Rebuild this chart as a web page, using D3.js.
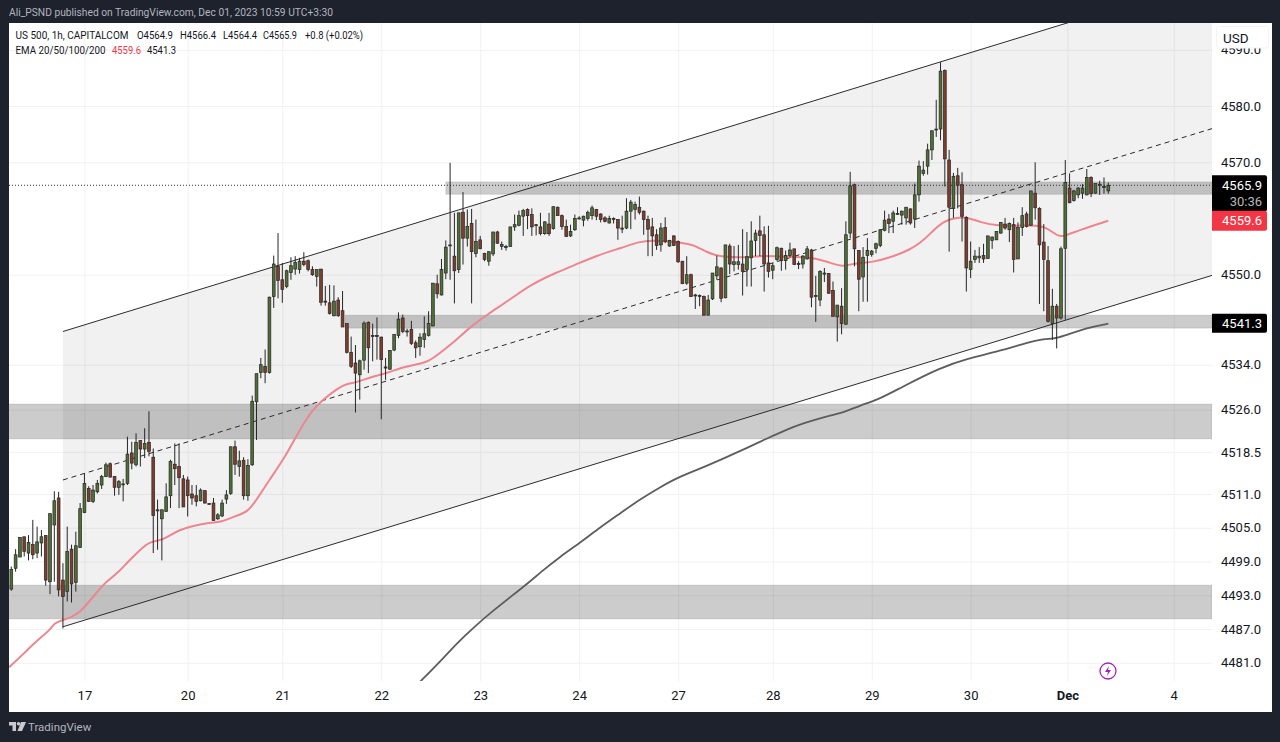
<!DOCTYPE html>
<html>
<head>
<meta charset="utf-8">
<title>US 500, 1h</title>
<script src="https://cdn.jsdelivr.net/npm/d3@7"></script>
<style>
	html, body { margin: 0; padding: 0; background: #1e222d; }
	svg { display: block; }
	text { font-family: Roboto, "Liberation Sans", sans-serif; }
</style>
</head>
<body>
<svg id="chart" width="1280" height="742"></svg>
<script>
	// hourly candles, one row per ten bars, same layout in all four arrays
	var opens = [
		4494.1,4497.8,4499.8,4503.4,4500.5,4502.0,4500.5,4502.3,4503.6,4495.4,
		4505.5,4510.3,4495.7,4493.65,4501.2,4495.3,4501.5,4507.7,4512,4509.7,
		4511.4,4512.6,4514.1,4516.4,4514.1,4512.2,4512.8,4512.9,4518.3,4516.2,
		4520.5,4519,4520.2,4517.55,4508,4506.6,4507.9,4510.7,4516.3,4515.9,
		4513.7,4513.5,4511,4510.7,4509.8,4511.6,4509.3,4509.4,4506.6,4507.1,
		4510.1,4511.1,4519.4,4515.9,4517,4510.7,4516.2,4527.4,4532.6,4533.7,
		4532.6,4546.1,4551.5,4549.1,4547.9,4550.4,4551,4550.9,4552.4,4552.5,
		4550.9,4549.7,4551,4545.3,4545,4542.7,4545.5,4543.6,4541.3,4536.2,
		4534.3,4532.2,4534.8,4541.5,4539,4539.2,4538.9,4533.6,4533.2,4536.6,
		4539.2,4542.3,4540,4540.3,4537.9,4537.2,4538.5,4539.2,4540.9,4548.4,
		4546.4,4550.3,4555.3,4553.3,4550.9,4561.1,4556.5,4559.1,4553.8,4556.2,
		4553.8,4552.4,4553.7,4557.6,4555,4554.9,4555,4558.5,4558.8,4560.4,
		4561.6,4560.7,4558.9,4558.5,4557.3,4559,4558.2,4562,4560.5,4558.6,
		4556.9,4558,4560,4559.7,4560,4560.5,4561.6,4560.8,4560.1,4559.2,
		4560,4559.8,4558.3,4558.3,4561.3,4561.6,4562,4561.3,4559.8,4558.5,
		4557.1,4555.3,4558.4,4555.1,4556.9,4555.9,4552.4,4548.5,4550,4546.4,
		4546.3,4546.1,4542.8,4545.7,4549.8,4551.2,4545.9,4555.1,4551.8,4551.8,
		4551.9,4550.9,4553,4556.1,4557.8,4557.1,4552.1,4550.8,4552.7,4554.7,
		4552.5,4553.4,4554.6,4552,4551.9,4552.8,4554.4,4546.1,4545.5,4550.1,
		4550.2,4547.2,4542.5,4544.4,4541.2,4557.4,4566,4554.3,4549.6,4553.4,
		4553.6,4554.7,4555.2,4557.9,4559.9,4559.5,4560.9,4560.6,4560.1,4561.7,
		4559.9,4564.2,4568,4569.3,4572.2,4575.9,4575.9,4586.3,4570.4,4561.8,
		4567.6,4566,4560.2,4550.9,4552.7,4553,4553.4,4552.9,4556.1,4556.2,
		4557.4,4559,4558,4558.9,4552.8,4558.4,4560.8,4558.8,4564.5,4561.8,
		4555.8,4552.5,4541.3,4544.4,4542.3,4554.7,4565.4,4563.2,4564.2,4564.5,
		4564.2,4567.3,4564.5,4566,4565.7,4564.9
	];
	var highs = [
		4498.1,4501.2,4503.3,4503.4,4503.7,4506.4,4505.2,4504.6,4503.7,4507.6,
		4511.5,4511.4,4498.7,4505.2,4502,4504.3,4509.4,4514.7,4512.4,4512.6,
		4513.5,4514.4,4516.6,4516.6,4514.2,4513.5,4513.7,4521.2,4520.3,4521.8,
		4520.5,4522.7,4525.7,4519.1,4510,4508.2,4512.9,4517.1,4520,4520,
		4514.4,4514.1,4512.6,4512.6,4512,4511.7,4509.4,4510.3,4507.6,4510,
		4511.7,4519.4,4520.5,4518.7,4517.55,4517.2,4528.5,4532.4,4535.2,4536.7,
		4546.1,4553.4,4557.4,4552.1,4550.9,4553.1,4553.3,4553,4554,4552.7,
		4551.5,4550.9,4551,4548,4548.2,4548.1,4546,4547.1,4541.3,4539,
		4537.5,4534.9,4541.7,4541.7,4541.3,4542.4,4539,4535.2,4536.6,4539.4,
		4543.3,4542.9,4540.4,4541.8,4538.3,4539.6,4542.6,4543.5,4548.5,4550,
		4552.8,4556.1,4569.9,4561,4561,4564.7,4561.6,4561.7,4559.8,4556.9,
		4553.9,4554.1,4557.6,4557.8,4555.9,4555.3,4558.5,4560.7,4561.4,4561.7,
		4561.8,4561.8,4559,4561,4559.5,4561,4562.1,4562.1,4560.7,4559.8,
		4558.9,4560.7,4560.4,4560.5,4561.4,4562.3,4561.7,4560.9,4560.4,4560.5,
		4560.2,4559.9,4560.5,4563.6,4563.3,4563,4563.9,4561.4,4560.5,4560.1,
		4558.1,4559.2,4560.2,4556.2,4557,4556.1,4552.4,4553.3,4550.2,4546.6,
		4546.5,4546.3,4546.4,4550.3,4553.4,4551.3,4555.3,4555.5,4555.1,4555.3,
		4558.1,4557.6,4559.5,4558,4560.5,4558.6,4558.7,4552.1,4555,4554.8,
		4554.3,4555.7,4554.6,4552.4,4553.5,4555.1,4554.6,4549.8,4550.8,4551.2,
		4550.3,4548.8,4544.6,4547.6,4559.5,4568.3,4566.2,4554.3,4554.9,4556.5,
		4554.4,4555.7,4558.1,4561.4,4560.8,4561.4,4562,4561.4,4562,4561.8,
		4566.2,4570.3,4570.2,4573.3,4575.6,4581.1,4587.8,4586.5,4572.2,4568.1,
		4569,4568.2,4560.4,4555.9,4554.4,4554.9,4555.5,4556.9,4556.8,4557.7,
		4559.3,4560.1,4559.3,4560.1,4559.3,4562,4561.2,4564.9,4570,4562,
		4559,4555.1,4547.5,4544.8,4555,4570.4,4568,4565.1,4565.6,4566.1,
		4568.8,4567.5,4566.2,4566.7,4567.3,4566.4
	];
	var lows = [
		4493.8,4497.2,4499.8,4499.9,4499.2,4499.4,4499.6,4499.9,4494.7,4493.2,
		4495.4,4492.8,4487.1,4491.9,4491.7,4493.65,4501.4,4507.6,4509.6,4509.4,
		4511.1,4511.9,4514,4514,4510.7,4510.85,4509.7,4512.6,4515.4,4515.9,
		4515.9,4517.4,4517.7,4500.5,4501.1,4499.2,4507.8,4508.5,4512.6,4508.5,
		4508.7,4507,4509.1,4508.8,4509.7,4509.3,4509.2,4506.3,4506.4,4506.9,
		4509.25,4510.85,4514.4,4514.1,4510,4509.8,4516,4520.6,4531.6,4530.7,
		4532.4,4544.1,4545.8,4545,4547.6,4549.1,4550,4550.2,4551.5,4550.6,
		4549.8,4547.9,4544.5,4544.5,4542.9,4542.6,4542.5,4540.7,4536,4533.4,
		4525.5,4527.8,4533.1,4532.5,4534.6,4534.9,4524.3,4531.3,4533.1,4536.4,
		4538.7,4539.6,4539,4537.5,4535.2,4535.6,4537,4539,4540.8,4545.8,
		4546.3,4549.2,4549.1,4544.9,4550.3,4551.8,4555,4544.9,4553.1,4554.6,
		4552.4,4551.6,4553.3,4555.5,4554.4,4554.3,4555,4557.8,4558.6,4556.9,
		4558.1,4556.9,4557,4557,4557.1,4556.9,4558,4560.5,4558,4556.7,
		4556.7,4557.8,4559.8,4558.6,4559.6,4559.8,4559.7,4559.3,4559.3,4559.1,
		4559.1,4556.2,4557.4,4558.1,4558.1,4559.8,4560.7,4557.1,4553.3,4553.3,
		4554.4,4554.1,4555.6,4555,4555.1,4552.1,4548.4,4548.2,4546.1,4543.9,
		4544.4,4542.8,4542.8,4545.5,4549.1,4545.1,4545.8,4550.1,4550.6,4550.9,
		4546.3,4547.9,4547.9,4553.3,4553.3,4547,4549.5,4549.2,4552.4,4550.7,
		4550.9,4553.1,4551.7,4551,4551.1,4552.7,4544.2,4541.6,4544.4,4548.7,
		4546.7,4542.6,4538.1,4539.4,4541.1,4556.5,4551.5,4543.5,4545.2,4545.2,
		4553.2,4553.8,4554.9,4557.7,4557.4,4557.4,4560.7,4558.9,4558.9,4558.9,
		4558.3,4563,4567.6,4567.8,4570.4,4574.5,4573.9,4565.7,4554.1,4560.1,
		4561.8,4555.9,4547,4549.4,4552.1,4552.1,4552.1,4552.8,4554.6,4556.2,
		4557.3,4558,4555.8,4550.4,4552.8,4556.9,4558.4,4558.7,4559.8,4544.8,
		4543.5,4541.5,4538.4,4536.9,4542,4542,4562.7,4563,4563.6,4563.5,
		4564.1,4563.8,4564.4,4564.2,4564.4,4564.4
	];
	var closes = [
		4497.6,4500.2,4503.3,4500.8,4502.4,4500.2,4502.5,4503.4,4495.7,4507.5,
		4509.8,4493.95,4492.8,4500.8,4495,4501.8,4508.4,4512.9,4509.7,4511.7,
		4512.9,4514.1,4516.2,4514,4512.2,4513.2,4512.8,4518.1,4516.5,4520.2,
		4519,4520,4518.6,4507.2,4508.2,4508.2,4510.5,4516.8,4515.5,4513.9,
		4508.7,4510.7,4510.3,4509.7,4511.7,4509.4,4509.2,4506.3,4507.3,4509.4,
		4510.85,4519.4,4516.3,4516.9,4510.7,4516.1,4527.5,4532.4,4534,4532.6,
		4546,4551.9,4549,4547.4,4550.7,4551.6,4552.2,4552.4,4551.8,4550.9,
		4550,4550.9,4545.1,4545.2,4543.1,4545.3,4542.7,4540.7,4536.2,4533.7,
		4532.5,4534.7,4541.4,4537,4539.2,4539,4534.9,4533.4,4536.5,4539.4,
		4542.1,4539.9,4539.9,4537.8,4537,4538.9,4539.5,4541.3,4548.5,4546.6,
		4550.9,4554.9,4555.3,4550.7,4561,4556.5,4558.6,4554.1,4555.9,4554.6,
		4552.7,4554.1,4557.6,4555.6,4555.4,4555,4558.5,4558.9,4560.5,4561.4,
		4560.5,4558.5,4558.9,4557.3,4559.4,4557.3,4562.1,4560.5,4558.6,4556.8,
		4557.7,4560,4560.1,4560.4,4561.1,4561.9,4560.4,4559.8,4559.5,4560,
		4559.8,4558.3,4558.1,4561.3,4562.9,4562.5,4561.1,4559.8,4558.1,4556.9,
		4555.2,4558.3,4555.9,4556.1,4555.2,4552.3,4548.4,4550,4546.1,4546.3,
		4546.3,4542.8,4545.5,4550.3,4551.4,4545.8,4555.3,4551.9,4552.3,4552.3,
		4550.6,4553.2,4556,4557.4,4557,4551.9,4550.6,4551.6,4554.8,4552.5,
		4553.4,4554.4,4551.8,4551.8,4553.3,4554.6,4546,4546.3,4550.6,4550.3,
		4546.7,4542.6,4544.6,4541.3,4557.1,4565.8,4554.6,4549.2,4553.1,4554.3,
		4554.2,4555.5,4558,4559.7,4559.1,4561,4560.9,4561.3,4562,4559.2,
		4564.2,4569.3,4568.6,4572.2,4575.6,4575.9,4586.2,4570.6,4562,4567.5,
		4565.9,4560.4,4551.2,4552.4,4553.3,4553.3,4552.8,4556.9,4556.7,4557.7,
		4559.3,4558.3,4559.1,4552.7,4558.4,4560.5,4558.6,4564.9,4561.9,4555.3,
		4552.7,4541.7,4544.4,4542.3,4554.6,4566.4,4562.8,4564.9,4565.4,4565.4,
		4567.3,4564.4,4566.2,4566.1,4565.5,4565.9
	];

	var ema50_bars = [-0.5,3,6,9,10,12,14,16,18,20,22,25,27,30,32,35,37,39,42,45.5,49,52,55,57,60,64,67,70,72.5,76,78,80,84,87,91,94,97,100,103,107,110.6,116,120.6,127,130.6,136,142,146,149,153,155.5,158.5,161.8,164.8,170,174,178.7,182.7,186.4,189.7,193.4,195.7,199.7,205,209,211.3,213,216.5,220,222.3,225.3,229.2,234.6,240,243.2,244.6,248.5,255];
	var ema50_values = [4480.2,4482.7,4485,4486.8,4488.1,4488.6,4489.1,4490,4491.8,4493.6,4495.4,4497.1,4498.9,4501.1,4502.5,4502.8,4503.7,4504.6,4505.3,4505.9,4506,4507.1,4507.8,4510,4513.5,4518,4522.4,4526,4527.8,4529.9,4530.6,4530.8,4531.9,4532.4,4533.6,4534,4534.5,4536.3,4538.1,4540.9,4542.9,4545.6,4548.2,4550.5,4551.6,4553.4,4554.8,4555.9,4556.1,4555.9,4555.7,4555.4,4553.9,4553.2,4553,4553.4,4553.2,4553.2,4553,4552.3,4551.3,4552.1,4552.1,4553.2,4554.5,4555.7,4556.8,4559.6,4560.2,4560.2,4559.3,4558.7,4558.7,4558.9,4556.8,4556.8,4558,4559.6];
	var ema200_bars = [95,99.7,103.6,107.8,111.7,119.9,122.9,127.6,132.2,136.9,141.6,146.2,150.8,154.7,161.7,166.4,171,175.7,180.3,184.2,188.8,193.5,197.4,201.3,206.7,216,222.3,229.2,236.9,240,242.3,244.3,250.2,255];
	var ema200_values = [4477.6,4481.2,4484.5,4487.5,4490.1,4495,4497,4499.9,4502.3,4505.1,4507.6,4510.1,4512.2,4513.9,4516,4517.6,4519.2,4520.9,4522.5,4523.6,4524.7,4525.5,4526.8,4527.7,4529.9,4533.5,4535.1,4536.3,4538.1,4538.6,4538.6,4539,4540.6,4541.3];

	// regression channel, ends at the low of bar 12 and at the right edge of the pane
	var channel_bars = [12, 279.2];
	var channel_upper = [4539.9, 4602.7];
	var channel_median = [4513.5, 4576];
	var channel_lower = [4487.4, 4549.9];

	// supply / demand boxes: first bar, top price, bottom price
	var zone_starts = [101, 77.6, -1, -1];
	var zone_tops = [4566.5, 4542.8, 4527, 4494.8];
	var zone_bottoms = [4564.3, 4540.5, 4520.8, 4488.8];

	var price_ticks = [4481,4487,4493,4499,4505,4511,4518.5,4526,4534,4550,4570,4580,4590];
	var day_bars = [17,41,63,86,109,132,155,177,200,223,245.5,270.2];
	var day_labels = ["17","20","21","22","23","24","27","28","29","30","Dec","4"];

	var last_price = 4565.9, ema50_last = 4559.6, ema200_last = 4541.3;

	var svg = d3.select("#chart");

	var pane = { left: 9, right: 1212, top: 23, bottom: 681, frame_right: 1272, frame_bottom: 712 };

	var x = d3.scaleLinear().domain([0, 255]).range([11.3, 1108.3]);
	var y = d3.scaleLinear().domain([4487, 4580]).range([629, 106]);

	svg.append("rect").attr("width", 1280).attr("height", 742).attr("fill", "#1e222d");
	svg.append("rect")
		.attr("x", pane.left).attr("y", pane.top)
		.attr("width", pane.frame_right - pane.left)
		.attr("height", pane.frame_bottom - pane.top)
		.attr("fill", "#ffffff");

	svg.append("clipPath").attr("id", "pane_clip").append("rect")
		.attr("x", pane.left).attr("y", pane.top)
		.attr("width", pane.right - pane.left)
		.attr("height", pane.bottom - pane.top);

	var plot = svg.append("g").attr("clip-path", "url(#pane_clip)");

	// grid comes from the axes, labels are drawn again later on top of the boxes
	function grid_style(g){
		g.select(".domain").remove();
		g.selectAll("text").remove();
		g.selectAll("line").attr("stroke", "#f0f1f3").attr("stroke-width", 1);
	}
	plot.append("g")
		.attr("transform", "translate(" + pane.left + ",0)")
		.call(d3.axisRight(y).tickValues(price_ticks).tickSize(pane.right - pane.left))
		.call(grid_style);
	plot.append("g")
		.attr("transform", "translate(0," + pane.top + ")")
		.call(d3.axisBottom(x).tickValues(day_bars).tickSize(pane.bottom - pane.top))
		.call(grid_style);

	// channel fill and lines
	var channel_index = d3.range(channel_bars.length);
	plot.append("path")
		.datum(channel_index)
		.attr("fill", "#000000")
		.attr("fill-opacity", 0.055)
		.attr("d", d3.area()
			.x(function(i){ return x(channel_bars[i]); })
			.y0(function(i){ return y(channel_lower[i]); })
			.y1(function(i){ return y(channel_upper[i]); }));

	// zones
	plot.selectAll("rect.zone")
		.data(d3.range(zone_starts.length))
		.enter().append("rect")
		.attr("class", "zone")
		.attr("x", function(i){ return x(zone_starts[i]); })
		.attr("y", function(i){ return y(zone_tops[i]); })
		.attr("width", function(i){ return pane.right - x(zone_starts[i]); })
		.attr("height", function(i){ return y(zone_bottoms[i]) - y(zone_tops[i]); })
		.attr("fill", "#000000")
		.attr("fill-opacity", 0.2)
		.attr("stroke", "#000000")
		.attr("stroke-opacity", 0.1);

	function channel_line(values, dash){
		plot.append("path")
			.datum(channel_index)
			.attr("fill", "none")
			.attr("stroke", "#2b2b2b")
			.attr("stroke-width", 1)
			.attr("stroke-dasharray", dash)
			.attr("d", d3.line()
				.x(function(i){ return x(channel_bars[i]); })
				.y(function(i){ return y(values[i]); }));
	}
	channel_line(channel_upper, null);
	channel_line(channel_lower, null);
	channel_line(channel_median, "5,4");

	// last price dotted line
	plot.append("line")
		.attr("x1", pane.left).attr("x2", pane.right)
		.attr("y1", y(last_price)).attr("y2", y(last_price))
		.attr("stroke", "#333333")
		.attr("stroke-dasharray", "1,2");

	function ema_line(bars, values, color, width){
		plot.append("path")
			.datum(d3.range(bars.length))
			.attr("fill", "none")
			.attr("stroke", color)
			.attr("stroke-width", width)
			.attr("stroke-linejoin", "round")
			.attr("d", d3.line()
				.curve(d3.curveBasis)
				.x(function(i){ return x(bars[i]); })
				.y(function(i){ return y(values[i]); }));
	}
	ema_line(ema50_bars, ema50_values, "#ec868f", 2);
	ema_line(ema200_bars, ema200_values, "#5d5d5d", 1.8);

	// candles
	var candle = plot.selectAll("g.candle")
		.data(d3.range(opens.length))
		.enter().append("g")
		.attr("class", "candle");

	candle.append("line")
		.attr("x1", function(i){ return x(i); })
		.attr("x2", function(i){ return x(i); })
		.attr("y1", function(i){ return y(highs[i]); })
		.attr("y2", function(i){ return y(lows[i]); })
		.attr("stroke", "#262626")
		.attr("stroke-width", 1);

	candle.append("rect")
		.attr("x", function(i){ return x(i) - 1.4; })
		.attr("width", 2.8)
		.attr("y", function(i){ return y(Math.max(opens[i], closes[i])); })
		.attr("height", function(i){ return Math.max(1, Math.abs(y(opens[i]) - y(closes[i]))); })
		.attr("fill", function(i){ return closes[i] >= opens[i] ? "#4f6f34" : "#7f3d2b"; })
		.attr("stroke", "#262626")
		.attr("stroke-width", 0.7);

	// price axis labels
	var price_axis = svg.append("g")
		.attr("transform", "translate(" + pane.right + ",0)")
		.call(d3.axisRight(y).tickValues(price_ticks).tickSize(0).tickPadding(9).tickFormat(d3.format(".1f")));
	price_axis.select(".domain").remove();
	price_axis.selectAll("text")
		.attr("font-size", 13)
		.attr("font-family", "Roboto, sans-serif")
		.attr("fill", "#131722");

	// time axis labels
	var time_axis = svg.append("g")
		.attr("transform", "translate(0," + pane.bottom + ")")
		.call(d3.axisBottom(x).tickValues(day_bars).tickSize(0).tickPadding(10)
			.tickFormat(function(d, i){ return day_labels[i]; }));
	time_axis.select(".domain").remove();
	time_axis.selectAll("text")
		.attr("font-size", 13)
		.attr("font-family", "Roboto, sans-serif")
		.attr("font-weight", function(d, i){ return day_labels[i] === "Dec" ? "bold" : "normal"; })
		.attr("fill", "#131722");

	// USD button covers the top tick label
	svg.append("rect")
		.attr("x", 1212.5).attr("y", pane.top).attr("width", 59).attr("height", 25)
		.attr("fill", "#ffffff");
	svg.append("rect")
		.attr("x", 1216.5).attr("y", 26.5).attr("width", 52).attr("height", 21.5).attr("rx", 2)
		.attr("fill", "#ffffff").attr("stroke", "#f0f3fa");
	svg.append("text")
		.attr("x", 1223).attr("y", 43)
		.attr("font-size", 13.5).attr("fill", "#131722")
		.text("USD");

	// price tags on the axis
	function price_tag(top, height, fill){
		svg.append("path")
			.attr("fill", fill)
			.attr("d", "M" + pane.right + "," + top + "h53q2,0 2,2v" + (height - 4) + "q0,2 -2,2h-53z");
	}
	function tag_text(value, dy, color){
		svg.append("text")
			.attr("x", 1262).attr("y", y(value) + dy)
			.attr("text-anchor", "end")
			.attr("font-size", 13).attr("fill", color)
			.text(d3.format(".1f")(value));
	}
	price_tag(y(last_price) - 10, 36, "#000000");
	tag_text(last_price, 4.5, "#ffffff");
	svg.append("text")
		.attr("x", 1262).attr("y", y(last_price) + 21)
		.attr("text-anchor", "end")
		.attr("font-size", 13).attr("fill", "#b8b8b8")
		.text("30:36");
	price_tag(y(ema50_last) - 10, 20, "#f23645");
	tag_text(ema50_last, 4.5, "#ffffff");
	price_tag(y(ema200_last) - 10, 19, "#000000");
	tag_text(ema200_last, 4.5, "#ffffff");

	// header and legend, widths fitted to the narrow face of the original
	svg.append("text")
		.attr("x", 9).attr("y", 16)
		.attr("font-size", 11)
		.attr("textLength", 324).attr("lengthAdjust", "spacingAndGlyphs")
		.attr("fill", "#b2b5be")
		.text("Ali_PSND published on TradingView.com, Dec 01, 2023 10:59 UTC+3:30");

	var legend_items = [
		["US 500, 1h, CAPITALCOM", 15.5, 39, 113, "#131722"],
		["O4564.9", 137, 39, 36, "#131722"],
		["H4566.4", 180, 39, 36, "#131722"],
		["L4564.4", 223, 39, 34, "#131722"],
		["C4565.9", 263, 39, 34, "#131722"],
		["+0.8 (+0.02%)", 305, 39, 58, "#131722"],
		["EMA 20/50/100/200", 15.5, 54, 90, "#131722"],
		["4559.6", 112, 54, 29, "#f23645"],
		["4541.3", 147, 54, 29, "#131722"]
	];
	svg.selectAll("text.legend")
		.data(legend_items)
		.enter().append("text")
		.attr("class", "legend")
		.attr("x", function(d){ return d[1]; })
		.attr("y", function(d){ return d[2]; })
		.attr("textLength", function(d){ return d[3]; })
		.attr("lengthAdjust", "spacingAndGlyphs")
		.attr("fill", function(d){ return d[4]; })
		.attr("font-size", 10.5)
		.text(function(d){ return d[0]; });

	// lightning badge
	var bolt = svg.append("g").attr("transform", "translate(1108,671)");
	bolt.append("circle").attr("r", 8).attr("fill", "#ffffff").attr("stroke", "#9c27b0").attr("stroke-width", 1.3);
	bolt.append("path").attr("d", "M1,-5L-3,1H0L-1,5L3,-1H0Z").attr("fill", "#9c27b0");

	// footer logo
	var logo = svg.append("g").attr("transform", "translate(9,722)").attr("fill", "#c8cad0");
	logo.append("path").attr("d", "M0,0h7v9h-3.5v-5.5h-3.5z");
	logo.append("circle").attr("cx", 9.5).attr("cy", 1.8).attr("r", 1.8);
	logo.append("path").attr("d", "M12,0h5l-4,9h-4.5z");
	svg.append("text")
		.attr("x", 28).attr("y", 731)
		.attr("font-size", 11.5).attr("fill", "#b2b5be")
		.text("TradingView");
</script>
</body>
</html>
